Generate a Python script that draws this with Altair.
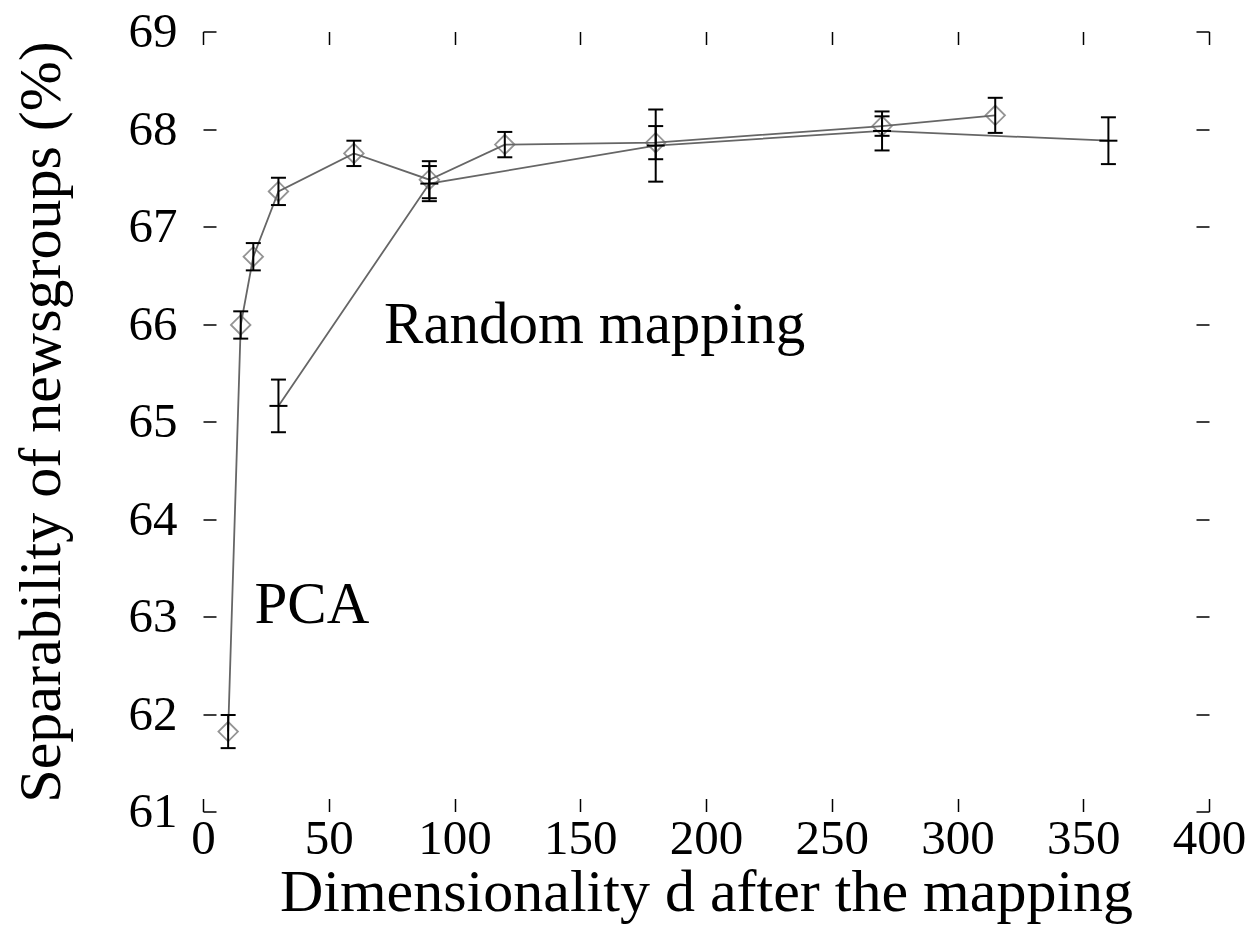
import altair as alt
import pandas as pd

# ---- data ----
pca_d = [10, 15, 20, 30, 60, 90, 120, 180, 270, 315]
pca_val = [61.82, 65.99, 66.69, 67.36, 67.75, 67.48, 67.84, 67.86, 68.03, 68.14]
pca_err = [0.17, 0.14, 0.14, 0.14, 0.13, 0.19, 0.13, 0.17, 0.10, 0.18]

rand_d = [30, 90, 180, 270, 360]
rand_val = [65.16, 67.44, 67.83, 67.98, 67.88]
rand_err = [0.27, 0.18, 0.37, 0.20, 0.24]

x_ticks = [0, 50, 100, 150, 200, 250, 300, 350, 400]
y_ticks = [61, 62, 63, 64, 65, 66, 67, 68, 69]

label_text = ["Random mapping", "PCA"]
label_d = [72, 20.5]
label_v = [65.81, 62.93]

FONT = "Liberation Serif"

pca = pd.DataFrame({
    "d": pca_d, "v": pca_val,
    "lo": [v - e for v, e in zip(pca_val, pca_err)],
    "hi": [v + e for v, e in zip(pca_val, pca_err)],
})
rnd = pd.DataFrame({
    "d": rand_d, "v": rand_val,
    "lo": [v - e for v, e in zip(rand_val, rand_err)],
    "hi": [v + e for v, e in zip(rand_val, rand_err)],
})
both = pd.concat([pca, rnd], ignore_index=True)
labels = pd.DataFrame({"t": label_text, "d": label_d, "v": label_v})

xs = alt.Scale(domain=[0, 400], nice=False, zero=False)
ys = alt.Scale(domain=[61, 69], nice=False, zero=False)

common = dict(
    tickSize=13, offset=-13, domain=False, grid=False,
    tickColor="black", tickWidth=1.5,
    labelFont=FONT, labelFontSize=49, labelColor="black",
    labelOverlap=False, labelFlush=False,
    titleFont=FONT, titleFontSize=60, titleFontWeight="normal", titleColor="black",
)

x_bottom = alt.Axis(orient="bottom", values=x_ticks, title="Dimensionality d after the mapping",
                    labelPadding=3, titlePadding=0, **common)
y_left = alt.Axis(orient="left", values=y_ticks, title="Separability of newsgroups (%)",
                  labelPadding=26, titlePadding=56, **common)
x_top = alt.Axis(orient="top", values=x_ticks, labels=False, title=None, **common)
y_right = alt.Axis(orient="right", values=y_ticks, labels=False, title=None, **common)

Xn = alt.X("d:Q", scale=xs, axis=None)
Yn = alt.Y("v:Q", scale=ys, axis=None)

LINE = "#666666"

rand_line = alt.Chart(rnd).mark_line(color=LINE, strokeWidth=1.8).encode(
    x=alt.X("d:Q", scale=xs, axis=x_bottom),
    y=alt.Y("v:Q", scale=ys, axis=y_left),
)
pca_line = alt.Chart(pca).mark_line(color=LINE, strokeWidth=1.8).encode(
    x=alt.X("d:Q", scale=xs, axis=x_top),
    y=alt.Y("v:Q", scale=ys, axis=y_right),
)
pca_pts = alt.Chart(pca).mark_point(shape="diamond", filled=False, size=380,
                                    color=LINE, strokeWidth=1.8).encode(x=Xn, y=Yn)

err_rule = alt.Chart(both).mark_rule(color="black", strokeWidth=2).encode(
    x=Xn, y=alt.Y("lo:Q", scale=ys, axis=None), y2="hi:Q")
cap_lo = alt.Chart(both).mark_tick(orient="horizontal", color="black", size=15,
                                   thickness=2, opacity=1).encode(
    x=Xn, y=alt.Y("lo:Q", scale=ys, axis=None))
cap_hi = alt.Chart(both).mark_tick(orient="horizontal", color="black", size=15,
                                   thickness=2, opacity=1).encode(
    x=Xn, y=alt.Y("hi:Q", scale=ys, axis=None))
rand_center = alt.Chart(rnd).mark_tick(orient="horizontal", color="black", size=18,
                                       thickness=2, opacity=1).encode(x=Xn, y=Yn)

text = alt.Chart(labels).mark_text(font=FONT, fontSize=59, align="left",
                                   baseline="alphabetic", color="black").encode(
    x=Xn, y=Yn, text="t:N")

chart = alt.layer(
    rand_line, pca_line, pca_pts, err_rule, cap_lo, cap_hi, rand_center, text
).resolve_axis(x="independent", y="independent").properties(
    width=1006, height=780,
    autosize=alt.AutoSizeParams(type="none"),
    padding={"left": 195, "top": 23.5, "right": 37, "bottom": 114},
).configure(background="white").configure_view(strokeWidth=0, stroke="white")

chart.save("out.html", embed_options={"renderer": "svg", "actions": False})
